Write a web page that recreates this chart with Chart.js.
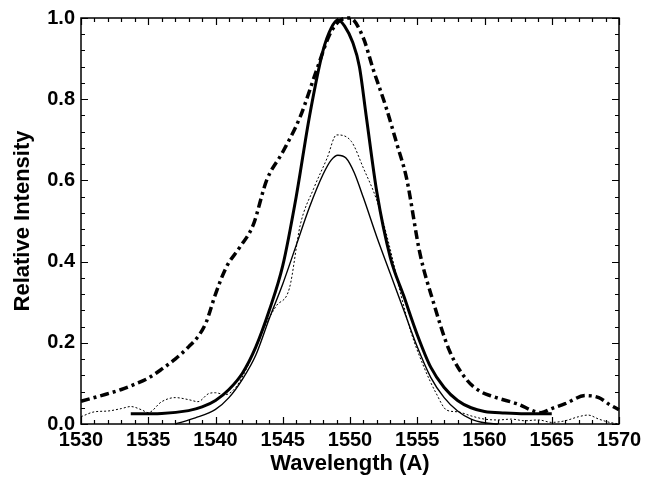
<!DOCTYPE html>
<html>
<head>
<meta charset="utf-8">
<script src="https://cdn.jsdelivr.net/npm/chart.js@4.4.1/dist/chart.umd.min.js"></script>
<style>
  html, body { margin: 0; padding: 0; background: #fff; }
  #wrap { width: 652px; height: 481px; }
</style>
</head>
<body>
<div id="wrap"><canvas id="c" width="652" height="481"></canvas></div>
<script>
// Thick solid curve (normalised profile)
const thickWave = [1533.7, 1536, 1538, 1539, 1540, 1541, 1542, 1543, 1544, 1545, 1546, 1547, 1548, 1548.6, 1549.1, 1549.6, 1550.2, 1550.7, 1551.2, 1552, 1553, 1554, 1555, 1556, 1557, 1558, 1559, 1560, 1561.5, 1563, 1565];
const thickVals = [0.025, 0.026, 0.033, 0.042, 0.058, 0.085, 0.125, 0.19, 0.28, 0.39, 0.56, 0.76, 0.92, 0.975, 0.995, 0.98, 0.94, 0.88, 0.76, 0.57, 0.41, 0.315, 0.22, 0.14, 0.09, 0.058, 0.04, 0.031, 0.027, 0.025, 0.025];

// Thin solid curve
const thinWave = [1537, 1538.5, 1540, 1541, 1542, 1543, 1544, 1545, 1546, 1547, 1548, 1548.6, 1549.1, 1549.7, 1550.3, 1551, 1552, 1553, 1554, 1555, 1556, 1557, 1558, 1559, 1560, 1561];
const thinVals = [0.0, 0.015, 0.036, 0.065, 0.11, 0.17, 0.26, 0.345, 0.44, 0.535, 0.615, 0.65, 0.662, 0.655, 0.62, 0.557, 0.46, 0.37, 0.28, 0.19, 0.115, 0.065, 0.032, 0.012, 0.003, 0.0];

// Thin dotted curve (measured, noisy)
const dotWave = [1530, 1531, 1532, 1533, 1533.7, 1534.5, 1535, 1536, 1537, 1538, 1538.7, 1539.5, 1540, 1540.7, 1541.5, 1542.5, 1543.5, 1544.5, 1545.5, 1546.3, 1547.3, 1548.3, 1549, 1550.1, 1551, 1552, 1552.9, 1553.7, 1554.5, 1555.5, 1556.4, 1557.2, 1558, 1559, 1560, 1561, 1562, 1563, 1564, 1565, 1566, 1567, 1567.7, 1568.5, 1569.3, 1570];
const dotVals = [0.018, 0.03, 0.032, 0.038, 0.043, 0.035, 0.028, 0.055, 0.065, 0.06, 0.055, 0.075, 0.077, 0.072, 0.09, 0.15, 0.23, 0.29, 0.335, 0.49, 0.58, 0.655, 0.712, 0.696, 0.63, 0.55, 0.443, 0.33, 0.23, 0.14, 0.076, 0.034, 0.03, 0.02, 0.012, 0.01, 0.012, 0.008, 0.01, 0.004, 0.008, 0.018, 0.022, 0.012, 0.004, 0.0];

// Thick dash-dot curve (broad profile)
const dashWave = [1530, 1531.5, 1533, 1534, 1535, 1536, 1537, 1538, 1538.8, 1539.3, 1540, 1540.8, 1541.8, 1542.8, 1543.8, 1545, 1546.3, 1547.5, 1548.5, 1549.3, 1550, 1551, 1551.7, 1552.7, 1553.5, 1554.2, 1555.2, 1556.2, 1557.4, 1558.7, 1559.7, 1560.7, 1562.4, 1564.2, 1565, 1566, 1567.5, 1568.5, 1569.3, 1570];
const dashVals = [0.056, 0.07, 0.085, 0.098, 0.113, 0.135, 0.16, 0.19, 0.22, 0.25, 0.32, 0.386, 0.435, 0.49, 0.6, 0.67, 0.757, 0.87, 0.96, 0.995, 1.0, 0.95, 0.876, 0.778, 0.688, 0.606, 0.42, 0.30, 0.18, 0.108, 0.08, 0.067, 0.05, 0.028, 0.038, 0.05, 0.07, 0.065, 0.048, 0.035];

// Axis ticks
const xTicks = [1530, 1535, 1540, 1545, 1550, 1555, 1560, 1565, 1570];
const yTicks = ['0.0', '0.2', '0.4', '0.6', '0.8', '1.0'];
const xMinorStep = 1;
const yMinorStep = 0.04;

function pts(xs, ys) {
  return xs.map((x, i) => ({ x: x, y: ys[i] }));
}

// Frame with inward ticks on all four sides
const framePlugin = {
  id: 'frame',
  afterDatasetsDraw(chart) {
    const ctx = chart.ctx;
    const a = chart.chartArea;
    const xs = chart.scales.x;
    const ys = chart.scales.y;
    ctx.save();
    ctx.strokeStyle = '#000';
    ctx.lineWidth = 1.5;
    ctx.strokeRect(a.left, a.top, a.right - a.left, a.bottom - a.top);
    ctx.lineWidth = 1.2;
    ctx.beginPath();
    for (let v = xs.min; v <= xs.max + 1e-6; v += xMinorStep) {
      const px = Math.round(xs.getPixelForValue(v)) + 0.5;
      const major = xTicks.includes(Math.round(v));
      const len = major ? 7 : 4;
      ctx.moveTo(px, a.bottom); ctx.lineTo(px, a.bottom - len);
      ctx.moveTo(px, a.top); ctx.lineTo(px, a.top + len);
    }
    for (let v = ys.min; v <= ys.max + 1e-6; v += yMinorStep) {
      const py = Math.round(ys.getPixelForValue(v)) + 0.5;
      const major = yTicks.includes(v.toFixed(1)) && Math.abs(v * 5 - Math.round(v * 5)) < 1e-6;
      const len = major ? 7 : 4;
      ctx.moveTo(a.left, py); ctx.lineTo(a.left + len, py);
      ctx.moveTo(a.right, py); ctx.lineTo(a.right - len, py);
    }
    ctx.stroke();
    ctx.restore();
  }
};

const font = "'Liberation Sans', Arial, sans-serif";

new Chart(document.getElementById('c'), {
  type: 'line',
  data: {
    datasets: [
      {
        label: 'broad',
        data: pts(dashWave, dashVals),
        borderColor: '#000',
        borderWidth: 3.5,
        borderDash: [9, 4, 3, 4],
        pointRadius: 0,
        cubicInterpolationMode: 'monotone',
        clip: 6
      },
      {
        label: 'measured',
        data: pts(dotWave, dotVals),
        borderColor: '#000',
        borderWidth: 1,
        borderDash: [2, 2],
        pointRadius: 0,
        cubicInterpolationMode: 'monotone',
        clip: 6
      },
      {
        label: 'thin',
        data: pts(thinWave, thinVals),
        borderColor: '#000',
        borderWidth: 1.4,
        pointRadius: 0,
        cubicInterpolationMode: 'monotone',
        clip: 6
      },
      {
        label: 'thick',
        data: pts(thickWave, thickVals),
        borderColor: '#000',
        borderWidth: 3,
        pointRadius: 0,
        cubicInterpolationMode: 'monotone',
        clip: 6
      }
    ]
  },
  options: {
    responsive: false,
    animation: false,
    layout: { padding: { left: 0, right: 33, top: 16, bottom: 0 } },
    plugins: {
      legend: { display: false },
      tooltip: { enabled: false }
    },
    scales: {
      x: {
        type: 'linear',
        min: 1530,
        max: 1570,
        grid: { display: false, drawTicks: false },
        border: { display: false },
        ticks: {
          stepSize: 5,
          padding: 4,
          color: '#000',
          maxRotation: 0,
          font: { family: font, size: 20, weight: 'bold' },
          callback: (v) => xTicks.includes(v) ? String(v) : ''
        },
        title: {
          display: true,
          text: 'Wavelength (A)',
          color: '#000',
          padding: { top: 0, bottom: 4 },
          font: { family: font, size: 22, weight: 'bold' }
        },
        afterFit: (s) => { s.height = 57; }
      },
      y: {
        min: 0,
        max: 1,
        grid: { display: false, drawTicks: false },
        border: { display: false },
        ticks: {
          stepSize: 0.2,
          padding: 6,
          color: '#000',
          font: { family: font, size: 20, weight: 'bold' },
          callback: (v) => yTicks[Math.round(v * 5)]
        },
        title: {
          display: true,
          text: 'Relative Intensity',
          color: '#000',
          padding: { top: 10, bottom: 0 },
          font: { family: font, size: 22, weight: 'bold' }
        },
        afterFit: (s) => { s.width = 81; }
      }
    }
  },
  plugins: [framePlugin]
});
</script>
</body>
</html>
